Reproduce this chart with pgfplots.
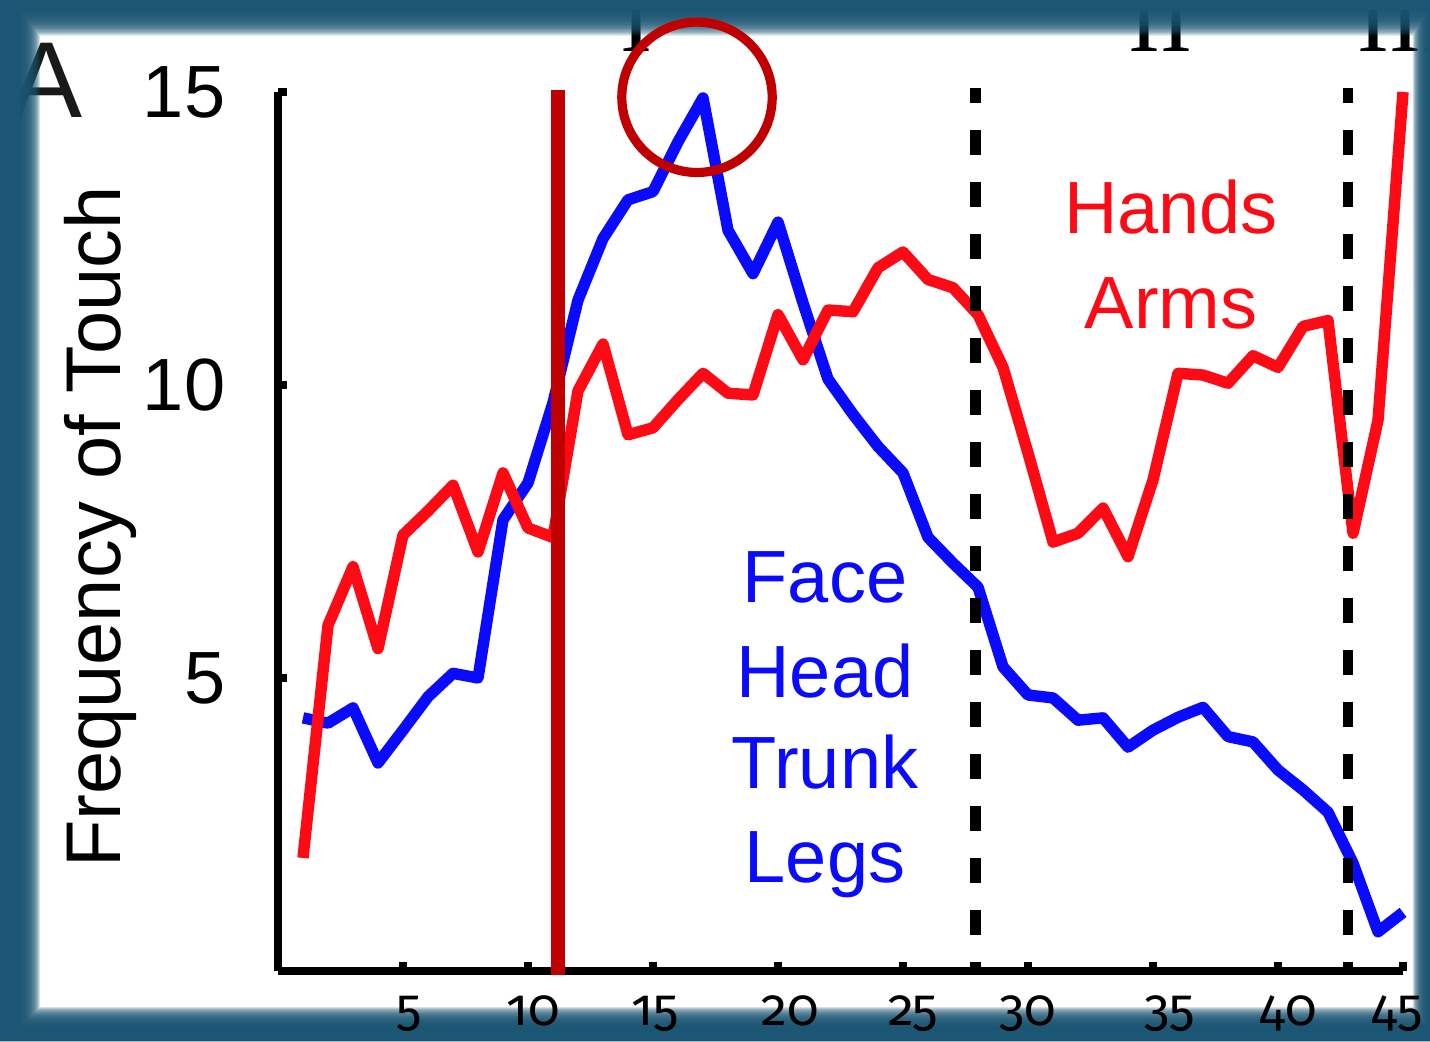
\documentclass[border=0pt]{standalone}
\usepackage{fontspec}
\setmainfont{Liberation Sans}
\newfontfamily\serifnum{Liberation Serif}
\newfontfamily\tickfont[Numbers=OldStyle]{Fira Sans}
\usepackage{pgfplots}
\pgfplotsset{compat=1.18}
\definecolor{framecol}{HTML}{1B5674}
\definecolor{darkred}{HTML}{C00000}
\definecolor{lblue}{HTML}{0A0AFF}
\definecolor{lred}{HTML}{FF0A14}
\newcommand\sh[2]{\hspace*{#1}#2\hspace*{-#1}}

\begin{document}
\begin{tikzpicture}[x=0.25pt,y=0.25pt]
\useasboundingbox (0,0) rectangle (1430,1041);
\fill[white] (0,0) rectangle (1430,1041);
\coordinate (O) at (278,70);
% roman numerals at the top (cut by the frame)
\node[font=\serifnum\fontsize{24}{24}\selectfont, anchor=base, inner sep=0] at (636,989) {I};
\node[font=\serifnum\fontsize{24}{24}\selectfont, anchor=base, inner sep=0] at (1160,989) {II};
\node[font=\serifnum\fontsize{24}{24}\selectfont, anchor=base west, inner sep=0] at (1357,989) {III};
% panel letter
\node[font=\fontsize{27}{27}\selectfont, anchor=base, inner sep=0, text=black!90] at (47,923) {A};
% blurred frame
\foreach \k in {0,...,19}{
  \pgfmathsetmacro{\L}{20+1.05*\k}
  \pgfmathsetmacro{\T}{1031-1.35*\k}
  \pgfmathsetmacro{\R}{1428-0.8*\k}
  \pgfmathsetmacro{\B}{14+1.05*\k}
  \fill[framecol, opacity=0.18, even odd rule] (0,0) rectangle (1430,1041) (\L,\B) rectangle (\R,\T);
}
\fill[framecol, even odd rule] (0,0) rectangle (1430,1041) (20,14) rectangle (1428,1031);

\begin{axis}[
  at={(O)}, anchor=south west, scale only axis,
  width=281.25pt, height=219.75pt,
  xmin=0, xmax=45, ymin=0, ymax=15,
  axis lines=left,
  axis line style={-, line width=2pt, black},
  clip=false,
  xtick={5,10,...,45},
  xticklabels={\sh{1.5pt}{5},\sh{1.25pt}{10},\sh{0.5pt}{15},\sh{3pt}{20},\sh{2.5pt}{25},\sh{0pt}{30},\sh{4.25pt}{35},\sh{2.5pt}{40},\sh{-1.5pt}{45}},
  ytick={5,10,15},
  tick align=inside, major tick length=2.2pt,
  tick style={line width=2pt, black},
  xticklabel style={font=\tickfont\fontsize{13}{13}\selectfont, anchor=base, yshift=-13.5pt, inner sep=0},
  yticklabel style={font=\fontsize{18.5}{18.5}\selectfont, anchor=east, xshift=-13pt, inner sep=0},
  /pgf/number format/assume math mode=true,
  ylabel={Frequency of Touch},
  ylabel style={font=\fontsize{19.4}{19.4}\selectfont, at={(axis description cs:-0.158,0.505)}, anchor=center},
]
% Face/Head/Trunk/Legs
\addplot[lblue, line width=2.85pt, line join=round] coordinates {
(1,4.32) (2,4.23) (3,4.49) (4,3.55) (5,4.11) (6,4.68) (7,5.08) (8,5.0) (9,7.7) (10,8.33)
(11,9.7) (12,11.45) (13,12.5) (14,13.16) (15,13.3) (16,14.15) (17,14.9) (18,12.64) (19,11.9) (20,12.78)
(21,11.4) (22,10.1) (23,9.5) (24,8.95) (25,8.5) (26,7.4) (27,6.96) (28,6.55) (29,5.19) (30,4.71)
(31,4.66) (32,4.28) (33,4.32) (34,3.82) (35,4.11) (36,4.33) (37,4.5) (38,4.0) (39,3.91) (40,3.43)
(41,3.09) (42,2.71) (43,1.84) (44,0.67) (45,1.0)
};
% Hands/Arms
\addplot[lred, line width=2.85pt, line join=round] coordinates {
(1,1.93) (2,5.9) (3,6.9) (4,5.5) (5,7.44) (6,7.85) (7,8.29) (8,7.15) (9,8.5) (10,7.56)
(11,7.4) (12,9.9) (13,10.7) (14,9.15) (15,9.27) (16,9.75) (17,10.2) (18,9.86) (19,9.83) (20,11.2)
(21,10.43) (22,11.28) (23,11.25) (24,12.0) (25,12.27) (26,11.8) (27,11.66) (28,11.2) (29,10.3) (30,8.84)
(31,7.32) (32,7.47) (33,7.9) (34,7.07) (35,8.38) (36,10.2) (37,10.17) (38,10.03) (39,10.5) (40,10.3)
(41,11.0) (42,11.1) (43,7.47) (44,9.4) (45,15.0)
};
% dashed phase boundaries
\addplot[black, line width=2.7pt, dash pattern=on 6.25pt off 6.75pt, dash phase=2.5pt] coordinates {(27.9,15.07) (27.9,0)};
\addplot[black, line width=2.7pt, dash pattern=on 6.25pt off 6.75pt, dash phase=2.5pt] coordinates {(42.8,15.07) (42.8,0)};
% dark red marker line
\addplot[darkred, line width=3.3pt] coordinates {(11.2,-0.07) (11.2,15.03)};
% circle round the peak
\draw[darkred, line width=2.3pt] (axis cs:16.76,14.91) circle[radius=18.8pt];
\end{axis}

% region labels
\begin{scope}[every node/.style={font=\fontsize{18.5}{18.5}\selectfont, anchor=base, inner sep=0}]
\node[text=lblue] at (825,439) {Face};
\node[text=lblue] at (825,344) {Head};
\node[text=lblue] at (825,253) {Trunk};
\node[text=lblue] at (825,159) {Legs};
\node[text=lred] at (1171,808) {Hands};
\node[text=lred] at (1171,713) {Arms};
\end{scope}
\end{tikzpicture}
\end{document}
